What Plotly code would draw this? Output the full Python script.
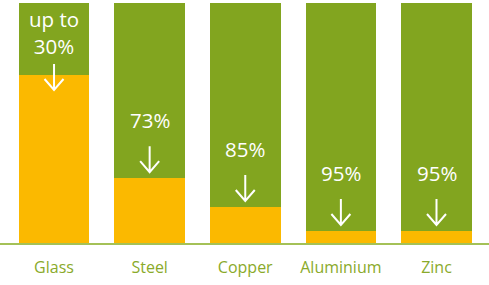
import plotly.graph_objects as go

materials = ["Glass", "Steel", "Copper", "Aluminium", "Zinc"]
saving = [30, 73, 85, 95, 95]
labels = ["up to<br>30%", "73%", "85%", "95%", "95%"]

remaining = [100 - s for s in saving]

GREEN = "#82A51F"
ORANGE = "#FBB900"
LABEL = "#8AAA2A"
AXIS = "#A4C157"
FONT = "Open Sans"

W, H = 489, 285
mt, mb = 3, 42
plot_h = H - mt - mb
px_per_unit = plot_h / 100.0

x = list(range(len(materials)))

fig = go.Figure()
fig.add_trace(go.Bar(x=x, y=remaining, marker=dict(color=ORANGE, line=dict(width=0)),
                     width=0.737, hoverinfo="skip"))
fig.add_trace(go.Bar(x=x, y=saving, marker=dict(color=GREEN, line=dict(width=0)),
                     width=0.737, hoverinfo="skip"))

shapes = []
annotations = []
arrow_len = 26
for i, (rem, lab) in enumerate(zip(remaining, labels)):
    lines = lab.count("<br>") + 1
    text_h = 22 + (lines - 1) * 27
    room = (100 - rem) * px_per_unit
    shift = max(0, 6 + arrow_len + 6 + text_h + 6 - room)
    gap_text = 2 if shift > 0 else 10
    b = 6 - shift
    t = b + arrow_len
    path = f"M 0,{b} L 0,{t} M -9.5,{b+11} L 0,{b} L 9.5,{b+11}"
    shapes.append(dict(type="path", xref="x", yref="y", xsizemode="pixel", ysizemode="pixel",
                       xanchor=i, yanchor=rem, path=path,
                       line=dict(color="white", width=2)))
    annotations.append(dict(x=i, y=rem, xref="x", yref="y", text=lab, showarrow=False,
                            yanchor="bottom", yshift=t + gap_text,
                            font=dict(family=FONT, size=20.5, color="white")))

fig.update_layout(
    barmode="stack",
    width=W, height=H,
    margin=dict(l=0, r=0, t=mt, b=mb),
    paper_bgcolor="white", plot_bgcolor="white",
    showlegend=False,
    bargap=0,
    shapes=shapes,
    annotations=annotations,
    xaxis=dict(range=[-0.565, 4.549], tickmode="array", tickvals=x, ticktext=materials,
               showgrid=False, zeroline=False, showline=True, linecolor=AXIS, linewidth=2,
               ticks="", tickfont=dict(family=FONT, size=16, color=LABEL), ticklabelstandoff=9),
    yaxis=dict(range=[0, 100], visible=False, showgrid=False, zeroline=False),
)

fig.write_html("out.html")
